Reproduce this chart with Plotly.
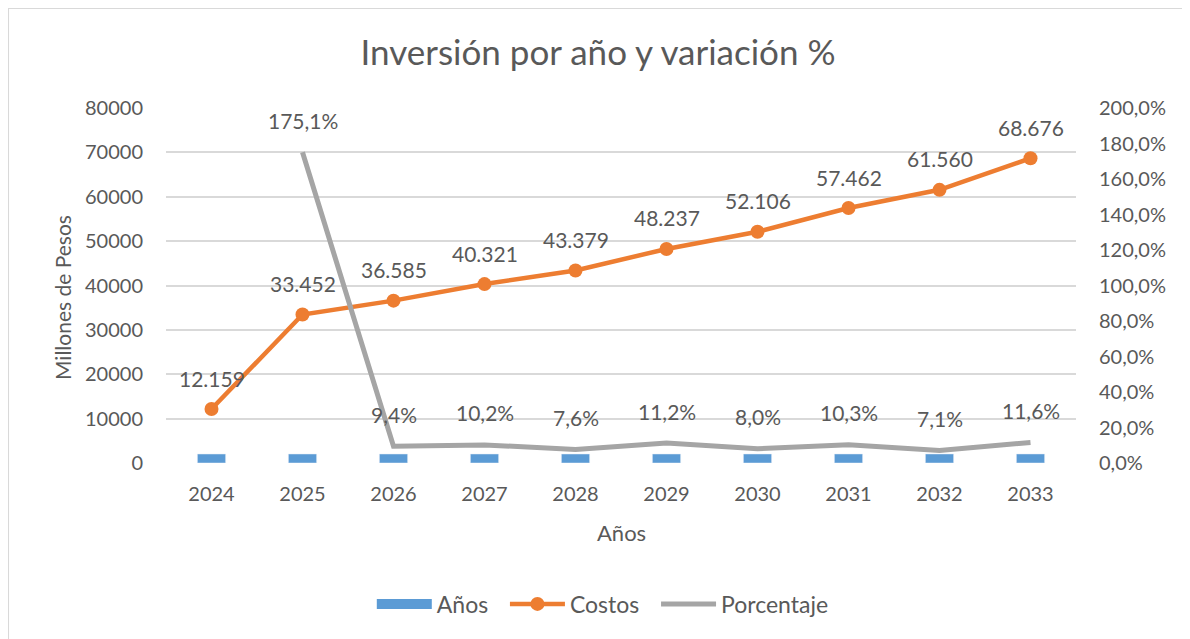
import plotly.graph_objects as go

# ---- data ----
years = ["2024", "2025", "2026", "2027", "2028", "2029", "2030", "2031", "2032", "2033"]
anios_vals = [2024, 2025, 2026, 2027, 2028, 2029, 2030, 2031, 2032, 2033]
costos = [12159, 33452, 36585, 40321, 43379, 48237, 52106, 57462, 61560, 68676]
porcentaje = [None, 175.1, 9.4, 10.2, 7.6, 11.2, 8.0, 10.3, 7.1, 11.6]

left_ticks = [0, 10000, 20000, 30000, 40000, 50000, 60000, 70000, 80000]
right_ticks = [0, 20, 40, 60, 80, 100, 120, 140, 160, 180, 200]
right_ticktext = [f"{v:.1f}%".replace(".", ",") for v in right_ticks]

# ---- styles ----
FONT = "Lato"
TXT = "#595959"
GRID = "#D9D9D9"
BLUE = "#5B9BD5"
ORANGE = "#ED7D31"
GRAY = "#A5A5A5"
PAD = "\u00a0\u00a0"  # extra legend spacing

fig = go.Figure()

# legend-only entry for the bars (wide rectangle like the reference legend)
fig.add_trace(go.Scatter(
    x=[None], y=[None], name="Años" + PAD, mode="lines",
    line=dict(color=BLUE, width=10), yaxis="y", hoverinfo="skip",
))
fig.add_trace(go.Bar(
    x=years, y=anios_vals, name="Años", marker_color=BLUE, width=0.31,
    yaxis="y", hoverinfo="skip", showlegend=False,
))
fig.add_trace(go.Scatter(
    x=years, y=costos, name="Costos" + PAD, mode="lines+markers",
    line=dict(color=ORANGE, width=4.5), marker=dict(color=ORANGE, size=14),
    yaxis="y",
))
fig.add_trace(go.Scatter(
    x=years, y=porcentaje, name="Porcentaje", mode="lines",
    line=dict(color=GRAY, width=5), yaxis="y2", connectgaps=False,
))

annotations = []
for i, v in enumerate(costos):
    annotations.append(dict(
        x=i, y=v, xref="x", yref="y", text=f"{v:,}".replace(",", "."),
        showarrow=False, yshift=31, yanchor="middle",
        font=dict(family=FONT, size=21, color=TXT),
    ))
for i, p in enumerate(porcentaje):
    if p is None:
        continue
    annotations.append(dict(
        x=i, y=p, xref="x", yref="y2", text=f"{p:.1f}%".replace(".", ","),
        showarrow=False, yshift=32, yanchor="middle",
        font=dict(family=FONT, size=21, color=TXT),
    ))

# axis titles
annotations.append(dict(
    x=0.5, y=-0.197, xref="paper", yref="paper", text="Años", showarrow=False,
    xanchor="center", yanchor="middle", font=dict(family=FONT, size=22, color=TXT),
))
annotations.append(dict(
    x=-0.1143, y=0.4676, xref="paper", yref="paper", text="Millones de Pesos",
    showarrow=False, textangle=-90, xanchor="center", yanchor="middle",
    font=dict(family=FONT, size=21, color=TXT),
))

W, H = 1182, 631  # page body has an 8px margin
fig.update_layout(
    width=W, height=H,
    margin=dict(l=158, r=114, t=100, b=176, pad=0),
    paper_bgcolor="white", plot_bgcolor="white",
    font=dict(family=FONT, size=20, color=TXT),
    title=dict(
        text="Inversión por año y variación %", x=(598 - 8) / W, y=1 - 45 / H,
        xanchor="center", yanchor="middle",
        font=dict(family=FONT, size=35, color=TXT),
    ),
    xaxis=dict(
        type="category", range=[-0.5, 9.5], showgrid=False, showline=False,
        ticks="", ticklabelstandoff=17, tickfont=dict(size=20, color=TXT),
        zeroline=False,
    ),
    yaxis=dict(
        range=[0, 80000], tickvals=left_ticks, tickformat="d",
        showgrid=True, gridcolor=GRID, gridwidth=1.5, zeroline=False,
        showline=False, ticks="", ticklabelstandoff=22,
        tickfont=dict(size=20, color=TXT),
    ),
    yaxis2=dict(
        range=[0, 200], tickvals=right_ticks, ticktext=right_ticktext,
        overlaying="y", side="right", showgrid=False, zeroline=False,
        showline=False, ticks="", ticklabelstandoff=22,
        tickfont=dict(size=20, color=TXT),
    ),
    legend=dict(
        orientation="h", x=0.48, y=-0.397, xanchor="center", yanchor="middle",
        font=dict(family=FONT, size=23, color=TXT), itemwidth=55,
        traceorder="normal", bgcolor="rgba(0,0,0,0)",
    ),
    showlegend=True,
    annotations=annotations,
    shapes=[dict(
        type="rect", xref="paper", yref="paper",
        x0=-0.1736, x1=1.122, y0=-0.55, y1=1.2817,
        line=dict(color=GRID, width=2), fillcolor="rgba(0,0,0,0)", layer="below",
    )],
)

fig.write_html("out.html")
